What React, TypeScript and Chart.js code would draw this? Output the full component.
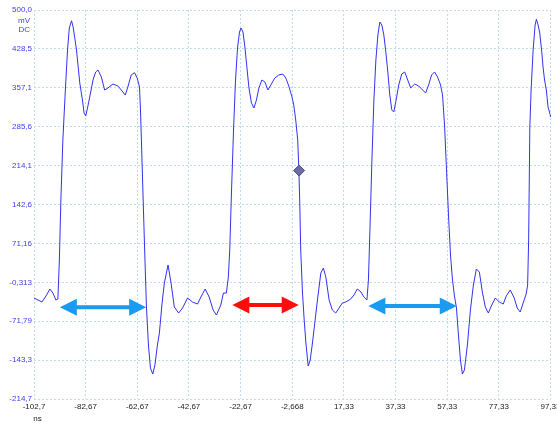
import React, { useEffect, useRef } from "react";
import { Chart, registerables } from "chart.js";

Chart.register(...registerables);

// Waveform samples (time in ns, voltage in mV)
const timeNs = [
  -102.67, -101.13, -99.58, -98.04, -96.5, -95.34, -94.19, -93.42, -92.84, -92.26,
  -91.49, -90.53, -89.68, -88.99, -88.14, -87.52, -86.87, -86.21, -85.52, -84.94,
  -83.9, -83.28, -82.63, -81.86, -81.08, -79.82, -78.77, -77.89, -76.58, -75.31,
  -74.03, -72.11, -70.18, -68.87, -67.33, -66.33, -65.02, -63.75, -62.71, -61.82,
  -61.43, -60.85, -60.28, -59.7, -59.12, -58.35, -57.58, -56.69, -55.84, -54.88,
  -54.11, -53.15, -52.19, -50.76, -49.6, -48.33, -46.67, -45.13, -43.21, -41.28,
  -39.35, -38.04, -36.38, -34.84, -33.3, -32.03, -30.33, -29.33, -28.18, -27.41,
  -26.87, -26.17, -25.4, -24.63, -23.86, -23.09, -22.51, -21.74, -20.97, -20.2,
  -19.43, -18.47, -17.5, -16.54, -15.58, -14.42, -13.26, -12.11, -10.95, -9.41,
  -7.87, -6.33, -5.17, -4.02, -2.86, -2.09, -1.32, -0.55, -0.17, 0.22,
  0.61, 1.3, 1.96, 2.62, 3.51, 4.28, 5.16, 6.2, 7.09, 8.4,
  9.4, 10.33, 11.6, 12.87, 14.18, 15.46, 16.73, 18.04, 19.97, 21.24,
  22.51, 23.94, 25.09, 26.25, 26.83, 27.41, 28.18, 28.95, 29.72, 30.49,
  31.26, 32.03, 32.8, 33.57, 34.34, 35.11, 35.88, 36.65, 37.42, 38.57,
  39.73, 40.89, 42.04, 43.2, 44.74, 46.28, 47.82, 48.98, 50.13, 51.29,
  52.45, 53.6, 54.76, 55.53, 56.3, 57.07, 57.84, 58.61, 59.38, 60.15,
  60.92, 61.69, 62.46, 63.23, 64.0, 65.16, 66.32, 67.47, 68.63, 69.79,
  70.94, 72.1, 73.26, 74.41, 75.95, 77.5, 79.04, 80.2, 81.74, 83.28,
  84.44, 85.59, 86.75, 87.91, 88.48, 88.87, 89.33, 89.83, 90.6, 91.37,
  91.87, 92.53, 93.18, 93.88, 94.45, 95.03, 95.72, 96.38, 97.26, 97.33,
];

const voltageMv = [
  -29.1, -32.8, -36.5, -25.5, -12.6, -20.0, -32.8, -31.0, 40.7, 150.9,
  261.2, 353.0, 426.5, 466.9, 480.3, 468.8, 448.6, 426.5, 393.4, 365.9,
  334.6, 310.8, 305.3, 321.8, 340.2, 371.4, 386.1, 389.8, 376.9, 353.0,
  356.7, 364.0, 360.4, 353.0, 343.8, 358.5, 380.6, 384.8, 375.1, 358.5,
  316.3, 224.4, 132.5, 40.7, -45.7, -115.5, -157.8, -168.8, -152.2, -115.5,
  -93.4, -42.0, -1.6, 31.5, -1.6, -45.7, -56.7, -47.5, -29.1, -36.5,
  -40.2, -27.3, -12.6, -27.3, -51.2, -60.4, -42.0, -20.0, -20.0, 9.4,
  59.0, 169.3, 279.5, 371.4, 430.2, 459.6, 466.9, 459.6, 430.2, 393.4,
  356.7, 329.1, 319.9, 334.6, 356.7, 371.4, 367.7, 353.0, 362.2, 375.1,
  380.6, 382.4, 375.1, 360.4, 342.0, 325.5, 297.9, 261.2, 215.2, 150.9,
  59.0, -20.0, -69.6, -111.8, -154.1, -143.1, -111.8, -69.6, -32.8, 16.8,
  25.9, 9.4, -32.8, -51.2, -56.7, -47.5, -38.3, -36.5, -31.0, -23.6,
  -12.6, -18.1, -27.3, -32.8, 4.0, 95.8, 224.4, 334.6, 408.1, 454.1,
  477.9, 472.4, 454.1, 422.8, 386.1, 343.8, 316.3, 312.6, 331.0, 362.2,
  382.4, 386.1, 371.4, 356.7, 364.0, 360.4, 353.0, 347.5, 362.2, 380.6,
  386.1, 376.9, 362.2, 343.8, 288.7, 206.0, 123.3, 49.9, 4.0, -25.5,
  -47.5, -97.1, -143.1, -168.8, -161.4, -115.5, -51.2, -5.3, 24.1, 18.6,
  -18.1, -45.7, -56.7, -43.9, -29.1, -36.5, -40.2, -25.5, -14.4, -29.1,
  -47.5, -54.9, -38.3, -21.8, -5.3, 77.5, 285.0, 353.0, 426.5, 472.4,
  483.0, 472.4, 457.7, 426.5, 395.3, 371.4, 353.0, 321.8, 307.1, 303.4,
];

const xTickValues = [-102.667, -82.667, -62.667, -42.667, -22.667, -2.668, 17.333, 37.333, 57.333, 77.333, 97.333];
const xTickLabels = ["-102,7", "-82,67", "-62,67", "-42,67", "-22,67", "-2,668", "17,33", "37,33", "57,33", "77,33", "97,33"];
const yTickValues = [-214.7, -143.23, -71.76, -0.29, 71.18, 142.65, 214.12, 285.59, 357.06, 428.53, 500.0];
const yTickLabels = ["-214,7", "-143,3", "-71,79", "-0,313", "71,16", "142,6", "214,1", "285,6", "357,1", "428,5", "500,0"];
const yUnitLabels = ["mV", "DC"];
const xUnitLabel = "ns";

// Trigger marker
const markerTime = [0.0];
const markerMv = [205];

// Measurement arrows
const arrowStart = [-92.65, -25.87, 26.81];
const arrowEnd = [-59.24, -0.16, 61.04];
const arrowLevel = [-46, -42, -44];
const arrowColors = ["#1a9bf0", "#ff0d0d", "#1a9bf0"];

const overlayPlugin = {
  id: "overlay",
  afterDatasetsDraw(chart: any) {
    const { ctx } = chart;
    const x = chart.scales.x;
    const y = chart.scales.y;
    ctx.save();
    arrowStart.forEach((s, i) => {
      const x1 = x.getPixelForValue(s);
      const x2 = x.getPixelForValue(arrowEnd[i]);
      const yy = y.getPixelForValue(arrowLevel[i]);
      const headL = 17;
      const headH = 8.5;
      const shaft = 2;
      ctx.fillStyle = arrowColors[i];
      ctx.beginPath();
      ctx.moveTo(x1, yy);
      ctx.lineTo(x1 + headL, yy - headH);
      ctx.lineTo(x1 + headL, yy - shaft);
      ctx.lineTo(x2 - headL, yy - shaft);
      ctx.lineTo(x2 - headL, yy - headH);
      ctx.lineTo(x2, yy);
      ctx.lineTo(x2 - headL, yy + headH);
      ctx.lineTo(x2 - headL, yy + shaft);
      ctx.lineTo(x1 + headL, yy + shaft);
      ctx.lineTo(x1 + headL, yy + headH);
      ctx.closePath();
      ctx.fill();
    });
    ctx.restore();
  },
  afterDraw(chart: any) {
    const { ctx, chartArea } = chart;
    const x = chart.scales.x;
    const y = chart.scales.y;
    ctx.save();
    ctx.font = '8px "Liberation Sans", Arial, sans-serif';
    ctx.textBaseline = "middle";
    ctx.textAlign = "right";
    ctx.fillStyle = "#4040f0";
    yTickValues.forEach((v, i) => {
      ctx.fillText(yTickLabels[i], chartArea.left - 2, y.getPixelForValue(v));
    });
    ctx.fillText(yUnitLabels[0], chartArea.left - 4, chartArea.top + 10.5);
    ctx.fillText(yUnitLabels[1], chartArea.left - 4, chartArea.top + 19.5);
    ctx.textAlign = "center";
    ctx.fillStyle = "#222222";
    xTickValues.forEach((v, i) => {
      ctx.fillText(xTickLabels[i], x.getPixelForValue(v), chartArea.bottom + 8);
    });
    ctx.fillText(xUnitLabel, chartArea.left + 3.5, chartArea.bottom + 19.5);
    ctx.restore();
  },
};

export default function App() {
  const canvasRef = useRef<HTMLCanvasElement | null>(null);

  useEffect(() => {
    if (!canvasRef.current) return;
    const gridColor = "#bcdfee";
    const chart = new Chart(canvasRef.current, {
      type: "line",
      data: {
        datasets: [
          {
            type: "scatter",
            data: markerTime.map((t, i) => ({ x: t, y: markerMv[i] })),
            pointStyle: "rectRot",
            pointRadius: 5.5,
            backgroundColor: "#6c6ca0",
            borderColor: "#4a4a92",
            borderWidth: 1,
            order: 0,
          } as any,
          {
            type: "line",
            data: timeNs.map((t, i) => ({ x: t, y: voltageMv[i] })),
            borderColor: "#3232ee",
            borderWidth: 1,
            pointRadius: 0,
            tension: 0,
            fill: false,
            order: 1,
          },
        ],
      },
      options: {
        animation: false,
        responsive: false,
        maintainAspectRatio: false,
        layout: { padding: { top: 10, right: 4, left: 0, bottom: 0 } },
        plugins: { legend: { display: false }, tooltip: { enabled: false } },
        scales: {
          x: {
            type: "linear",
            min: xTickValues[0],
            max: xTickValues[xTickValues.length - 1],
            ticks: { display: false },
            grid: { color: gridColor, lineWidth: 1, drawTicks: false },
            border: { display: false, dash: [2, 2] },
            afterBuildTicks: (scale: any) => {
              scale.ticks = xTickValues.map((v) => ({ value: v }));
            },
            afterFit: (scale: any) => {
              scale.height = 24;
            },
          },
          y: {
            type: "linear",
            min: yTickValues[0],
            max: yTickValues[yTickValues.length - 1],
            ticks: { display: false },
            grid: { color: gridColor, lineWidth: 1, drawTicks: false },
            border: { display: false, dash: [2, 2] },
            afterBuildTicks: (scale: any) => {
              scale.ticks = yTickValues.map((v) => ({ value: v }));
            },
            afterFit: (scale: any) => {
              scale.width = 34;
            },
          },
        },
      },
      plugins: [overlayPlugin],
    });
    return () => chart.destroy();
  }, []);

  return (
    <div style={{ position: "fixed", left: 0, top: 0, width: 557, height: 423, background: "#ffffff" }}>
      <canvas ref={canvasRef} width={557} height={423} style={{ display: "block" }} />
    </div>
  );
}
